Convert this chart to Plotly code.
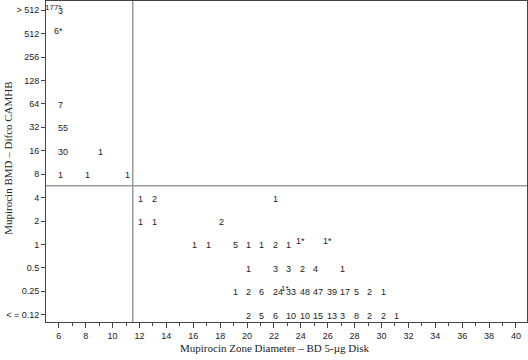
import plotly.graph_objects as go

# Y categories (MIC, µg/mL)
mic_labels = ["< = 0.12", "0.25", "0.5", "1", "2", "4", "8", "16", "32", "64", "128", "256", "512", "> 512"]

# Counts: (zone diameter, MIC row index, label)
zone = [6, 6, 6, 6, 9, 6, 8, 11,
        12, 13, 22,
        12, 13, 18,
        16, 17, 19, 20, 21, 22, 23,
        20, 22, 23, 24, 25, 27,
        19, 20, 21, 22, 23, 24, 25, 26, 27, 28, 29, 30,
        20, 21, 22, 23, 24, 25, 26, 27, 28, 29, 30, 31]
mic_row = [13, 9, 8, 7, 7, 6, 6, 6,
           5, 5, 5,
           4, 4, 4,
           3, 3, 3, 3, 3, 3, 3,
           2, 2, 2, 2, 2, 2,
           1, 1, 1, 1, 1, 1, 1, 1, 1, 1, 1, 1,
           0, 0, 0, 0, 0, 0, 0, 0, 0, 0, 0, 0]
count = ["3", "7", "55", "30", "1", "1", "1", "1",
         "1", "2", "1",
         "1", "1", "2",
         "1", "1", "5", "1", "1", "2", "1",
         "1", "3", "3", "2", "4", "1",
         "1", "2", "6", "24", "33", "48", "47", "39", "17", "5", "2", "1",
         "2", "5", "6", "10", "10", "15", "13", "3", "8", "2", "2", "1"]

# Starred counts
star_zone = [6, 6, 24, 26, 23]
star_row = [13, 12, 3, 3, 1]
star_count = ["177*", "6*", "1*", "1*", "1*"]

zone_breakpoint = 11.5
mic_breakpoint = 5.5

x_ticks = list(range(6, 41, 2))

sans = "Liberation Sans, Arial, sans-serif"
serif = "Liberation Serif, Times New Roman, serif"
label_font = dict(family=sans, size=9, color="#222")

fig = go.Figure()
# invisible trace to establish axes
fig.add_trace(go.Scatter(x=zone + star_zone, y=mic_row + star_row, mode="markers",
                         marker=dict(size=1, opacity=0), hoverinfo="skip", showlegend=False))

annotations = []
occupied = set(zip(zone, mic_row))
for xv, yv, t in zip(zone, mic_row, count):
    annotations.append(dict(x=xv, y=yv, xref="x", yref="y", text=t, showarrow=False,
                            xanchor="left", yanchor="middle", xshift=-3, yshift=-1,
                            font=label_font))
for xv, yv, t in zip(star_zone, star_row, star_count):
    if (xv, yv) in occupied:
        annotations.append(dict(x=xv, y=yv, xref="x", yref="y", text=t, showarrow=False,
                                xanchor="right", yanchor="middle", xshift=4, yshift=3,
                                font=dict(family=sans, size=8, color="#222")))
    else:
        annotations.append(dict(x=xv, y=yv, xref="x", yref="y", text=t, showarrow=False,
                                xanchor="center", yanchor="middle", xshift=0, yshift=3,
                                font=label_font))

# axis titles
annotations.append(dict(x=0.476, y=-0.082, xref="paper", yref="paper", yanchor="middle",
                        text="Mupirocin Zone Diameter – BD 5-µg Disk", showarrow=False,
                        font=dict(family=serif, size=11, color="#222")))
annotations.append(dict(x=-0.078, y=0.51, xref="paper", yref="paper", xanchor="center",
                        text="Mupirocin BMD – Difco CAMHB", showarrow=False, textangle=-90,
                        font=dict(family=serif, size=11, color="#222")))

fig.update_layout(
    width=528, height=360,
    margin=dict(l=46, r=1, t=1, b=38, autoexpand=False),
    paper_bgcolor="white", plot_bgcolor="white",
    annotations=annotations,
    shapes=[
        dict(type="line", xref="x", yref="paper", x0=zone_breakpoint, x1=zone_breakpoint, y0=0, y1=1,
             line=dict(color="#9a9a9a", width=1.5)),
        dict(type="line", xref="paper", yref="y", x0=0, x1=1, y0=mic_breakpoint, y1=mic_breakpoint,
             line=dict(color="#9a9a9a", width=1.5)),
    ],
    xaxis=dict(
        range=[5.05, 40.82], tickmode="array", tickvals=x_ticks, ticktext=[str(v) for v in x_ticks],
        ticks="outside", ticklen=5, tickcolor="#444", showgrid=False, zeroline=False,
        showline=True, linecolor="#444", linewidth=1, mirror=True, automargin=False,
        minor=dict(dtick=1, tick0=5, ticks="outside", ticklen=3, tickcolor="#444", showgrid=False),
        tickfont=dict(family=sans, size=9, color="#222"),
    ),
    yaxis=dict(
        range=[-0.31, 13.39], tickmode="array", tickvals=list(range(len(mic_labels))), ticktext=mic_labels,
        ticks="outside", ticklen=4, tickcolor="#444", showgrid=False, zeroline=False,
        showline=True, linecolor="#444", linewidth=1, mirror=True, automargin=False,
        tickfont=dict(family=sans, size=9, color="#222"),
    ),
)

fig.write_html("out.html", config={"displayModeBar": False},
               post_script="document.body.style.margin='0';document.body.style.padding='0';")
